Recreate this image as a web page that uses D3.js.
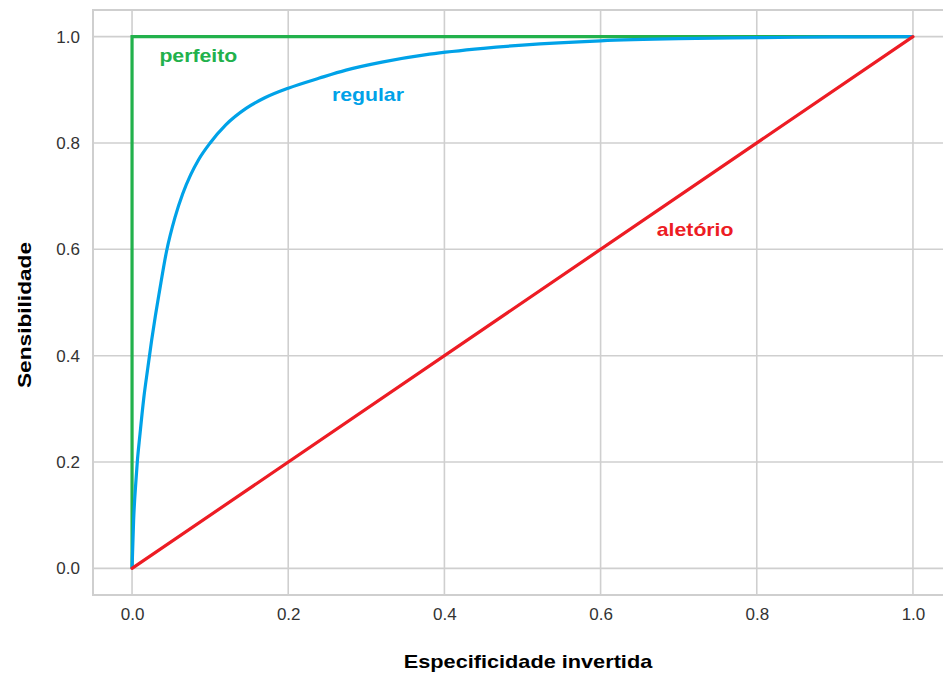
<!DOCTYPE html>
<html>
<head>
<meta charset="utf-8">
<script src="https://cdn.jsdelivr.net/npm/d3@7"></script>
<style>
  html, body { margin: 0; padding: 0; background: #fff; }
  svg { display: block; }
</style>
</head>
<body>
<svg id="chart" width="943" height="673"></svg>
<script>
// ---- data ----
const ticks = [0.0, 0.2, 0.4, 0.6, 0.8, 1.0];
const tickLabels = ["0.0", "0.2", "0.4", "0.6", "0.8", "1.0"];

const perfeitoX = [0, 0, 1];
const perfeitoY = [0, 1, 1];

const regularX = [0, 0.002, 0.005, 0.0067, 0.01, 0.015, 0.02, 0.025, 0.03, 0.035, 0.044, 0.055, 0.065, 0.075, 0.085, 0.1, 0.12, 0.146, 0.17, 0.2, 0.24, 0.274, 0.32, 0.381, 0.45, 0.5, 0.6, 0.7, 0.8, 0.9, 1.0];
const regularY = [0, 0.09, 0.165, 0.2, 0.25, 0.32, 0.375, 0.428, 0.476, 0.52, 0.595, 0.66, 0.705, 0.74, 0.768, 0.8, 0.834, 0.865, 0.885, 0.903, 0.922, 0.937, 0.952, 0.967, 0.978, 0.984, 0.992, 0.996, 0.998, 0.9993, 1.0];

const aleatorioX = [0, 1];
const aleatorioY = [0, 1];

const seriesNames = ["perfeito", "regular", "aletório"];

// ---- drawing ----
(function () {
const svg = d3.select("#chart");
const pL = 93, pT = 10, pR = 952, pB = 595;

const x = d3.scaleLinear().domain([-0.05, 1.05]).range([pL, pR]);
const y = d3.scaleLinear().domain([-0.05, 1.05]).range([pB, pT]);

const gridColor = "#cfcfcf";

svg.append("defs").append("clipPath").attr("id", "plotclip")
  .append("rect").attr("x", pL).attr("y", pT).attr("width", pR - pL).attr("height", pB - pT);

// grid
const grid = svg.append("g");
grid.selectAll("line.vx").data(ticks).enter().append("line")
  .attr("x1", d => x(d)).attr("x2", d => x(d))
  .attr("y1", pT).attr("y2", pB)
  .attr("stroke", gridColor).attr("stroke-width", 1.6);
grid.selectAll("line.hy").data(ticks).enter().append("line")
  .attr("x1", pL).attr("x2", pR)
  .attr("y1", d => y(d)).attr("y2", d => y(d))
  .attr("stroke", gridColor).attr("stroke-width", 1.6);

// frame
svg.append("rect").attr("x", pL).attr("y", pT)
  .attr("width", pR - pL).attr("height", pB - pT)
  .attr("fill", "none").attr("stroke", gridColor).attr("stroke-width", 2);

// axes (tick labels only)
const xAxis = d3.axisBottom(x).tickValues(ticks).tickFormat((d, i) => tickLabels[i]).tickSize(0).tickPadding(0);
const gx = svg.append("g").attr("transform", `translate(0,${pB})`).call(xAxis);
gx.select(".domain").remove();
gx.selectAll("text").attr("dy", null).attr("y", 25)
  .style("font-family", "'Liberation Sans', Arial, sans-serif").style("font-size", "17px").attr("fill", "#333");

const yAxis = d3.axisLeft(y).tickValues(ticks).tickFormat((d, i) => tickLabels[i]).tickSize(0).tickPadding(0);
const gy = svg.append("g").attr("transform", `translate(${pL},0)`).call(yAxis);
gy.select(".domain").remove();
gy.selectAll("text").attr("x", -13)
  .style("font-family", "'Liberation Sans', Arial, sans-serif").style("font-size", "17px").attr("fill", "#333");

// lines
const plot = svg.append("g").attr("clip-path", "url(#plotclip)");
const line = d3.line().x(d => x(d[0])).y(d => y(d[1]));
const zip = (a, b) => a.map((v, i) => [v, b[i]]);

const colors = { perfeito: "#22b14c", regular: "#00a2e8", "aletório": "#ed1c24" };

plot.append("path").datum(zip(perfeitoX, perfeitoY)).attr("d", line)
  .attr("fill", "none").attr("stroke", colors.perfeito).attr("stroke-width", 3.2);
plot.append("path").datum(zip(regularX, regularY))
  .attr("d", d3.line().x(d => x(d[0])).y(d => y(d[1])).curve(d3.curveMonotoneX))
  .attr("fill", "none").attr("stroke", colors.regular).attr("stroke-width", 3.2);
plot.append("path").datum(zip(aleatorioX, aleatorioY)).attr("d", line)
  .attr("fill", "none").attr("stroke", colors["aletório"]).attr("stroke-width", 3.2).attr("stroke-linecap", "round");

// labels
const labelFont = "'Liberation Sans', Arial, sans-serif";
function label(text, px, py, color) {
  svg.append("text")
    .attr("transform", `translate(${px},${py}) scale(1.18,1)`)
    .attr("fill", color)
    .style("font-family", labelFont).style("font-weight", "bold").style("font-size", "18px")
    .text(text);
}
label(seriesNames[0], x(0.035), y(0.953), colors.perfeito);
label(seriesNames[1], x(0.256), y(0.878), colors.regular);
label(seriesNames[2], x(0.672), y(0.625), colors["aletório"]);

// axis titles
svg.append("text")
  .attr("transform", `translate(528,668) scale(1.18,1)`)
  .attr("text-anchor", "middle")
  .style("font-family", labelFont).style("font-weight", "bold").style("font-size", "18.4px")
  .attr("fill", "#000")
  .text("Especificidade invertida");

svg.append("text")
  .attr("transform", `translate(31,315) rotate(-90) scale(1.18,1)`)
  .attr("text-anchor", "middle")
  .style("font-family", labelFont).style("font-weight", "bold").style("font-size", "19.2px")
  .attr("fill", "#000")
  .text("Sensibilidade");
})();
</script>
</body>
</html>
